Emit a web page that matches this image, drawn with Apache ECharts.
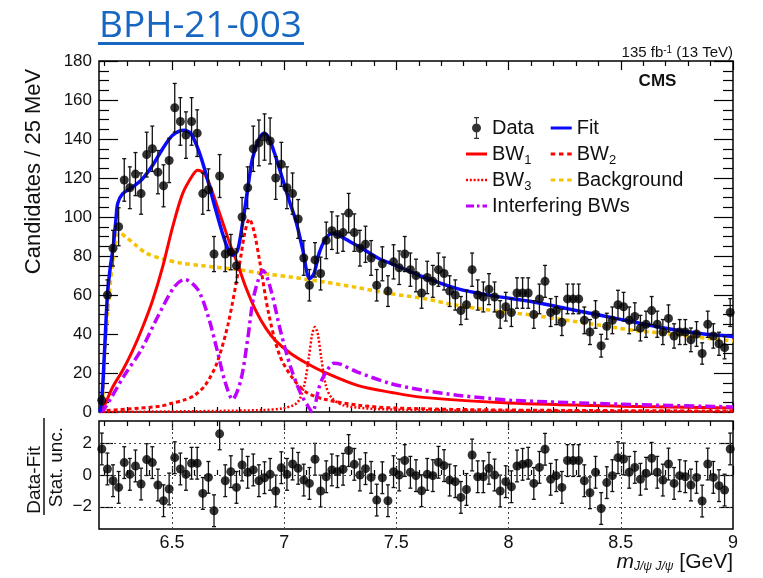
<!DOCTYPE html>
<html>
<head>
<meta charset="utf-8">
<script src="https://cdn.jsdelivr.net/npm/echarts@6/dist/echarts.min.js"></script>
<style>html,body{margin:0;padding:0;background:#fff}#c{width:763px;height:578px}</style>
</head>
<body>
<div id="c"></div>
<script>
// ---------- data ----------
const binLow = 6.175, binWidth = 0.025;
const counts = [6,60,84,95,119,115,122,112,132,135,123,116,129,156,149,142,149,143,112,114,
81,121,81,82,75,100,115,135,138,141,139,120,127,115,112,99,79,65,78,71,
88,93,91,92,102,92,84,86,79,65,76,62,77,74,81,73,70,61,69,67,
73,71,62,60,52,55,73,60,59,63,59,50,54,51,61,61,61,50,58,67,
51,52,46,58,58,58,47,41,50,34,44,47,55,54,47,49,43,45,52,45,
41,48,39,41,41,37,40,30,45,39,35,33,51];
const pulls = [1.64,0.38,-0.36,-0.78,0.78,0.04,0.57,-0.57,0.97,0.78,-0.63,-1.62,-0.88,1.09,0.38,0.04,0.74,0.74,-1.16,-0.15,
-2.25,2.59,-0.36,0.21,-0.78,0.63,0.17,0.32,-0.36,-0.17,0.04,-1.01,0.46,0.04,0.69,0.42,-0.32,-0.53,0.99,-1.01,
-0.11,0.32,0.21,0.36,1.54,0.67,0.0,0.40,-0.15,-1.58,-0.17,-1.62,0.21,0.0,0.91,0.17,-0.04,-0.99,0.04,-0.04,
0.80,0.59,-0.32,-0.42,-1.41,-0.91,1.26,-0.11,-0.11,0.42,0.0,-1.01,-0.42,-0.74,0.57,0.67,0.74,-0.53,0.48,1.62,
-0.27,-0.04,-0.78,0.91,0.91,0.91,-0.36,-1.12,0.17,-2.11,-0.48,-0.04,1.09,1.01,0.17,0.48,-0.27,0.11,1.05,0.17,
-0.32,0.69,-0.53,-0.04,-0.11,-0.63,-0.15,-1.64,0.69,-0.15,-0.67,-0.95,1.64];
const fitCurve = [[6.178,0],[6.1875,6],[6.2,32],[6.2125,60],[6.225,74],[6.2375,84],[6.25,98],[6.2585,107],[6.2807,112],
[6.3252,115.4],[6.3697,119.7],[6.4141,126.5],[6.4586,135],[6.5031,141.9],[6.5547,144.5],[6.5845,142.8],[6.6214,133.3],
[6.6512,122.3],[6.6957,103.4],[6.7402,86.4],[6.770,80.4],[6.7923,82.9],[6.8145,96.6],[6.8367,113.7],[6.859,130],
[6.8884,140.2],[6.9106,143.1],[6.9328,140.2],[6.9626,130.8],[6.9924,119.7],[7.0218,108.6],[7.0516,98.3],[7.0814,84],
[7.1139,68.4],[7.133,71],[7.1553,81.2],[7.1851,88.9],[7.2149,91.5],[7.2442,90.6],[7.2887,87.7],[7.3483,83.8],
[7.4222,78.7],[7.4964,75.2],[7.6223,69.2],[7.7709,63.3],[7.919,59.8],[8.1117,56.4],[8.2603,53],[8.4084,49.6],
[8.5565,46.2],[8.7051,42.8],[8.8532,40.2],[9.0,38.7]];
const bw1Curve = [[6.178,0],[6.1917,1.5],[6.2362,12.8],[6.2807,21.4],[6.3252,31.6],[6.3697,43.6],[6.4141,57.3],
[6.4586,74.4],[6.5031,94.9],[6.5476,112],[6.5921,121.4],[6.6143,124],[6.6439,122.3],[6.6734,115],[6.7031,105],
[6.7327,95],[6.762,85],[6.7923,76],[6.8292,64],[6.8737,52],[6.9182,43],[6.9626,36.5],[7.0294,30],[7.1,25],
[7.1775,20.5],[7.33,13.5],[7.48,10],[7.62,7.5],[8.0,4.6],[8.5,3],[9.0,2]];
const bw2Curve = [[6.178,0.5],[6.3,1.5],[6.45,3],[6.5,4.5],[6.55,6],[6.6,8.5],[6.65,14],[6.7,25],[6.75,45],[6.8,75],
[6.825,92],[6.845,99],[6.865,93],[6.89,78],[6.93,51],[6.98,29],[7.04,17],[7.1,10],[7.18,6.5],[7.33,3.5],[7.5,2],
[8.0,1],[9.0,0.5]];
const bw3Curve = [[6.178,0],[6.6,0.4],[6.9,1],[7.0,2],[7.06,5],[7.09,14],[7.11,28],[7.125,40],[7.137,43.6],[7.15,40],
[7.165,28],[7.185,14],[7.21,7.5],[7.265,3.4],[7.4,1.6],[7.6,1],[8.0,0.6],[9.0,0.3]];
const bkgCurve = [[6.179,0],[6.19,4],[6.2,30],[6.2211,60.7],[6.2433,83],[6.2656,92],[6.2954,89.7],[6.3399,85.5],
[6.3843,81.5],[6.4586,78.5],[6.5325,76.5],[6.6366,75],[6.7923,73],[6.9404,70.5],[7.0294,69.2],[7.1775,66.7],
[7.3261,63.8],[7.4742,60.7],[7.6223,58.2],[7.7709,54.7],[7.919,52.2],[8.1103,49.6],[8.2616,47],[8.4083,44.5],
[8.5552,41.9],[8.7064,40.2],[8.8532,38.2],[9.0,36.4]];
const interfCurve = [[6.178,0],[6.199,1.7],[6.288,18.8],[6.362,31.6],[6.436,48.7],[6.51,64.1],[6.556,68],[6.614,63],
[6.659,50],[6.703,31],[6.733,17],[6.77,6.5],[6.807,16.3],[6.837,37],[6.866,60],[6.907,72.5],[6.94,63],[6.985,41],
[7.029,23],[7.074,9.4],[7.113,1.7],[7.126,0],[7.154,12],[7.17,17],[7.195,22],[7.222,25],[7.25,24.5],[7.327,20.5],
[7.474,14.6],[7.622,11.1],[7.771,8.6],[7.919,6.9],[8.008,6],[8.5,4],[9.0,2.6]];
const majorTicks = [6.5, 7, 7.5, 8, 8.5, 9];
const minorTicks = [6.2,6.3,6.4,6.6,6.7,6.8,6.9,7.1,7.2,7.3,7.4,7.6,7.7,7.8,7.9,8.1,8.2,8.3,8.4,8.6,8.7,8.8,8.9];
const pullTicks = [-2, 0, 2];

// ---------- derived ----------
const FONT = '"Liberation Sans", Arial, Helvetica, sans-serif';
const centers = counts.map((c, i) => binLow + binWidth * (i + 0.5));
const dataPts = counts.map((c, i) => [centers[i], c]);
const dataErr = counts.map((c, i) => [centers[i], c, Math.sqrt(c)]);
const pullPts = pulls.map((p, i) => [centers[i], p]);
const pullErr = pulls.map((p, i) => [centers[i], p, 1]);

function errRender(params, api) {
  const x = api.value(0), y = api.value(1), e = api.value(2);
  const lo = api.coord([x, y - e]), hi = api.coord([x, y + e]);
  const cap = 2;
  const st = {stroke: '#111', lineWidth: 1.3};
  return {type: 'group', children: [
    {type: 'line', shape: {x1: lo[0], y1: lo[1], x2: hi[0], y2: hi[1]}, style: st},
    {type: 'line', shape: {x1: lo[0] - cap, y1: lo[1], x2: lo[0] + cap, y2: lo[1]}, style: st},
    {type: 'line', shape: {x1: hi[0] - cap, y1: hi[1], x2: hi[0] + cap, y2: hi[1]}, style: st}
  ]};
}

function xAx(grid, pos, values, len, label) {
  return {
    type: 'value', gridIndex: grid, position: pos, min: binLow, max: 9,
    axisLine: {show: false}, splitLine: {show: false},
    axisTick: {show: true, inside: true, length: len, customValues: values, lineStyle: {color: '#000', width: 1.2}},
    axisLabel: label ? {show: true, customValues: majorTicks, fontSize: 18, fontFamily: FONT, color: '#111', margin: 5,
      formatter: v => String(v)} : {show: false}
  };
}

const tickLine = {color: '#000', width: 1.2};
const legendText = {fontSize: 20, fontFamily: FONT, color: '#111', lineHeight: 26,
  rich: {sub: {fontSize: 13, lineHeight: 15, verticalAlign: 'bottom', fontFamily: FONT, color: '#111'}}};
const legendFmt = name => name.replace(/^BW(\d)$/, 'BW{sub|$1}');
const ICON_DATA = 'path://M4.4,0h1.2v22h-1.2z M2.5,0h5v1.2h-5z M2.5,20.8h5v1.2h-5z M0.5,11a4.5,4.5 0 1,1 9,0a4.5,4.5 0 1,1 -9,0z';
const ICON_SOLID = 'path://M0,0h21v3h-21z';
const ICON_DASH = 'path://M0,0h4.5v3h-4.5z M8.25,0h4.5v3h-4.5z M16.5,0h4.5v3h-4.5z';
const ICON_DOT = 'path://M0,0h2v2.5h-2z M3.8,0h2v2.5h-2z M7.6,0h2v2.5h-2z M11.4,0h2v2.5h-2z M15.2,0h2v2.5h-2z M19,0h2v2.5h-2z';
const ICON_DASHDOT = 'path://M0,0h8v3h-8z M11,0h2.5v3h-2.5z M16.5,0h4.5v3h-4.5z';

function curve(name, data, color, width, type, z) {
  return {name, type: 'line', xAxisIndex: 0, yAxisIndex: 0, data, symbol: 'none', smooth: 0.3,
    lineStyle: {color, width, type}, itemStyle: {color}, z, silent: true, animation: false};
}

const chart = echarts.init(document.getElementById('c'), null, {renderer: 'canvas'});
chart.setOption({
  animation: false,
  backgroundColor: '#fff',
  grid: [
    {left: 99, right: 30, top: 61, height: 351, show: true, borderColor: '#000', borderWidth: 1.5, backgroundColor: 'transparent'},
    {left: 99, right: 30, top: 421, height: 108, show: true, borderColor: '#000', borderWidth: 1.5, backgroundColor: 'transparent'}
  ],
  xAxis: [
    xAx(0, 'bottom', majorTicks, 9, false),
    xAx(0, 'bottom', minorTicks, 5, false),
    xAx(0, 'top', majorTicks, 9, false),
    xAx(0, 'top', minorTicks, 5, false),
    xAx(1, 'bottom', majorTicks, 9, true),
    xAx(1, 'bottom', minorTicks, 5, false),
    xAx(1, 'top', majorTicks, 9, false),
    xAx(1, 'top', minorTicks, 5, false)
  ],
  yAxis: [
    {type: 'value', gridIndex: 0, position: 'left', min: 0, max: 180, interval: 20,
     axisLine: {show: false}, splitLine: {show: false},
     axisTick: {inside: true, length: 19, lineStyle: tickLine},
     minorTick: {show: true, splitNumber: 4, length: 10, lineStyle: tickLine},
     axisLabel: {fontSize: 17, fontFamily: FONT, color: '#111', margin: 7}},
    {type: 'value', gridIndex: 0, position: 'right', min: 0, max: 180, interval: 20,
     axisLine: {show: false}, splitLine: {show: false},
     axisTick: {inside: true, length: 19, lineStyle: tickLine},
     minorTick: {show: true, splitNumber: 4, length: 10, lineStyle: tickLine},
     axisLabel: {show: false}},
    {type: 'value', gridIndex: 1, position: 'left', min: -3.4, max: 3.4,
     axisLine: {show: false}, splitLine: {show: false},
     axisTick: {inside: true, length: 14, customValues: pullTicks, lineStyle: tickLine},
     axisLabel: {customValues: pullTicks, fontSize: 17, fontFamily: FONT, color: '#111', margin: 7,
       formatter: v => v < 0 ? '\u2212' + Math.abs(v) : String(v)}},
    {type: 'value', gridIndex: 1, position: 'right', min: -3.4, max: 3.4,
     axisLine: {show: false}, splitLine: {show: false},
     axisTick: {inside: true, length: 14, customValues: pullTicks, lineStyle: tickLine},
     axisLabel: {show: false}}
  ],
  legend: [
    {orient: 'vertical', left: 466, top: 115, padding: 0, itemWidth: 21, itemHeight: 22, itemGap: 0,
     selectedMode: false, textStyle: legendText, formatter: legendFmt,
     data: [{name: 'Data', icon: ICON_DATA}, {name: 'BW1', icon: ICON_SOLID}, {name: 'BW3', icon: ICON_DOT},
            {name: 'Interfering BWs', icon: ICON_DASHDOT}]},
    {orient: 'vertical', left: 550.7, top: 115, padding: 0, itemWidth: 21, itemHeight: 22, itemGap: 0,
     selectedMode: false, textStyle: legendText, formatter: legendFmt,
     data: [{name: 'Fit', icon: ICON_SOLID}, {name: 'BW2', icon: ICON_DASH}, {name: 'Background', icon: ICON_DASH}]}
  ],
  series: [
    curve('Background', bkgCurve, '#f5c300', 3.5, [4.5, 3.5], 2),
    curve('BW1', bw1Curve, '#ff0000', 3, 'solid', 2),
    curve('BW2', bw2Curve, '#ff0000', 3, [4, 3], 2),
    curve('BW3', bw3Curve, '#ff0000', 2.5, [2, 2], 2),
    curve('Interfering BWs', interfCurve, '#c000ff', 3.5, [10, 4, 3, 4], 2),
    curve('Fit', fitCurve, '#0a0aff', 3.5, 'solid', 3),
    {name: 'DataErr', type: 'custom', xAxisIndex: 0, yAxisIndex: 0, data: dataErr, renderItem: errRender,
     clip: true, z: 4, silent: true},
    {name: 'Data', type: 'scatter', xAxisIndex: 0, yAxisIndex: 0, data: dataPts, symbol: 'circle', symbolSize: 9,
     itemStyle: {color: '#000'}, z: 5, silent: true},
    {name: 'PullErr', type: 'custom', xAxisIndex: 4, yAxisIndex: 2, data: pullErr, renderItem: errRender,
     clip: true, z: 4, silent: true,
     markLine: {silent: true, symbol: 'none', label: {show: false},
       lineStyle: {color: '#444', type: [2, 3], width: 1},
       data: pullTicks.map(v => ({yAxis: v})).concat(majorTicks.slice(0, 5).map(v => ({xAxis: v})))}},
    {name: 'Pull', type: 'scatter', xAxisIndex: 4, yAxisIndex: 2, data: pullPts, symbol: 'circle', symbolSize: 9,
     itemStyle: {color: '#000'}, z: 5, silent: true}
  ],
  graphic: [
    {type: 'text', x: 99, y: 26, style: {text: 'BPH-21-003', fontSize: 37, fontFamily: '"Open Sans", "Noto Sans", sans-serif',
      fill: '#1767c2', verticalAlign: 'middle', align: 'left'}},
    {type: 'rect', shape: {x: 98, y: 42, width: 206, height: 3}, style: {fill: '#1767c2'}},
    {type: 'text', x: 733, y: 53, style: {text: '135 fb{sup|-1} (13 TeV)', fontSize: 15, fontFamily: FONT, fill: '#111',
      align: 'right', verticalAlign: 'middle', rich: {sup: {fontSize: 10, lineHeight: 10, verticalAlign: 'top', fontFamily: FONT, fill: '#111'}}}},
    {type: 'text', x: 657.5, y: 81, style: {text: 'CMS', fontSize: 17, fontWeight: 'bold', fontFamily: FONT, fill: '#111',
      align: 'center', verticalAlign: 'middle'}},
    {type: 'text', x: 34, y: 171.5, rotation: Math.PI / 2, style: {text: 'Candidates / 25 MeV', fontSize: 22, fontFamily: FONT,
      fill: '#111', align: 'center', verticalAlign: 'middle'}},
    {type: 'text', x: 35, y: 480, rotation: Math.PI / 2, style: {text: 'Data-Fit', fontSize: 19, fontFamily: FONT,
      fill: '#111', align: 'center', verticalAlign: 'middle'}},
    {type: 'line', shape: {x1: 44, y1: 418, x2: 44, y2: 515}, style: {stroke: '#111', lineWidth: 1.5}},
    {type: 'text', x: 56.5, y: 467, rotation: Math.PI / 2, style: {text: 'Stat. unc.', fontSize: 19, fontFamily: FONT,
      fill: '#111', align: 'center', verticalAlign: 'middle'}},
    {type: 'text', x: 733, y: 562, style: {text: '{i|m}{s|J/\u03c8 J/\u03c8} [GeV]', fontSize: 21, fontFamily: FONT, fill: '#111',
      align: 'right', verticalAlign: 'middle',
      rich: {i: {fontStyle: 'italic', fontSize: 21, fontFamily: FONT, fill: '#111'},
             s: {fontStyle: 'italic', fontSize: 12, lineHeight: 12, verticalAlign: 'bottom', fontFamily: FONT, fill: '#111'}}}}
  ]
});
</script>
</body>
</html>
